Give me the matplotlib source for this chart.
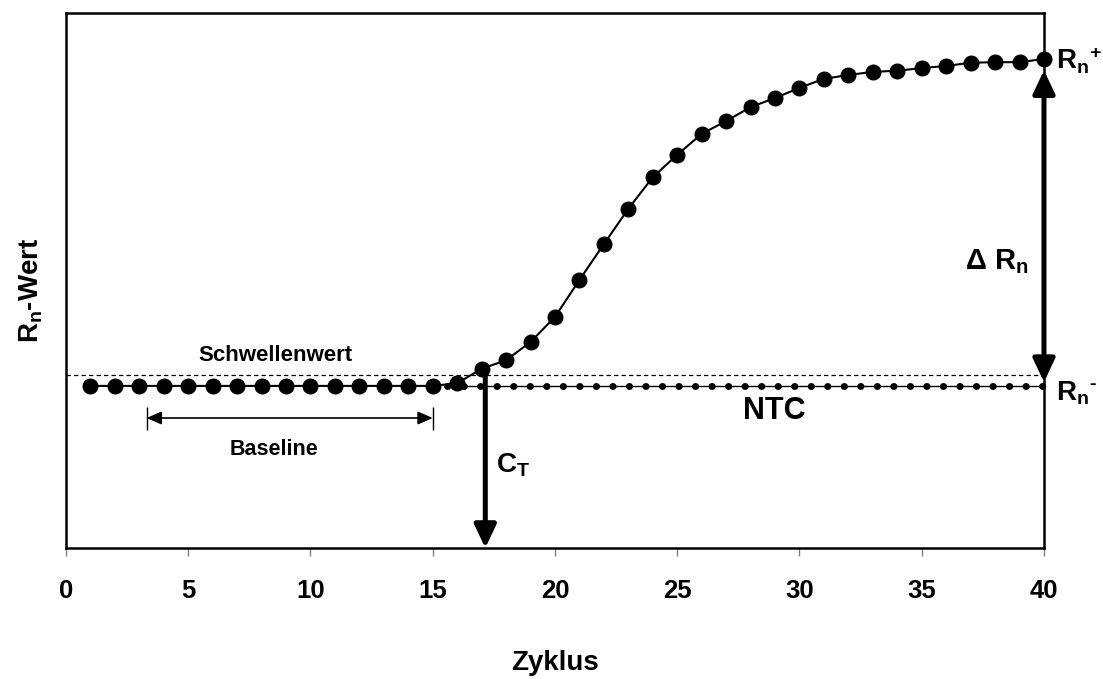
import numpy as np
import matplotlib
matplotlib.use("Agg")
import matplotlib.pyplot as plt

plt.rcParams['font.family'] = ['Liberation Sans', 'DejaVu Sans']
plt.rcParams['font.weight'] = 'bold'
plt.rcParams['mathtext.fontset'] = 'custom'
plt.rcParams['mathtext.rm'] = 'Liberation Sans:bold'
plt.rcParams['mathtext.bf'] = 'Liberation Sans:bold'
plt.rcParams['mathtext.it'] = 'Liberation Sans:bold'

# Daten: Zyklus und Rn-Wert (relative Einheiten, 0-100)
zyklus = np.arange(1, 41)
rn_wert = [30.3, 30.3, 30.3, 30.3, 30.3, 30.3, 30.3, 30.3, 30.3, 30.3,
           30.3, 30.3, 30.3, 30.3, 30.3, 30.8, 33.5, 35.1, 38.5, 43.2,
           50.1, 56.8, 63.4, 69.3, 73.5, 77.4, 79.8, 82.4, 84.1, 86.0,
           87.7, 88.4, 89.0, 89.2, 89.7, 90.1, 90.7, 90.8, 90.8, 91.4]

ntc_x = [15.6, 40]
ntc_y = [30.3, 30.3]
schwelle = 32.3
baseline_von, baseline_bis = 3.3, 15
ct = 17.15
rn_plus, rn_minus = 89.3, 31.0
xticks = [0, 5, 10, 15, 20, 25, 30, 35, 40]

fig = plt.figure(figsize=(11.03, 6.79), dpi=100)
ax = fig.add_axes([0.0598, 0.1929, 0.8867, 0.788])

# Schwellenwert
ax.plot([0, 40], [schwelle, schwelle], color='k', lw=0.9, dashes=(3.5, 2.5))
# NTC
ax.plot(ntc_x, ntc_y, color='k', lw=1.0, clip_on=False)
ax.plot(ntc_x, ntc_y, color='k', lw=5, dashes=(0.05, 2.33), dash_capstyle='round',
        solid_capstyle='round', clip_on=False)
# Probe
ax.plot(zyklus, rn_wert, color='k', lw=1.5, marker='o', markersize=10.5, clip_on=False, zorder=5)

# Baseline-Pfeil
ax.annotate('', xy=(baseline_bis, 24.3), xytext=(baseline_von, 24.3),
            arrowprops=dict(arrowstyle='<|-|>,head_length=0.5,head_width=0.22', lw=1.2, color='k',
                            mutation_scale=18, shrinkA=0, shrinkB=0))
ax.vlines([baseline_von, baseline_bis], 22.1, 26.4, color='k', lw=1.0)

# CT-Pfeil
ax.annotate('', xy=(ct, 0), xytext=(ct, schwelle + 0.5),
            arrowprops=dict(arrowstyle='-|>,head_length=0.7,head_width=0.33', lw=3.6, color='k',
                            mutation_scale=20, shrinkA=0, shrinkB=0), annotation_clip=False)

# Delta Rn Pfeil
ax.annotate('', xy=(40, rn_plus), xytext=(40, rn_minus),
            arrowprops=dict(arrowstyle='<|-|>,head_length=0.7,head_width=0.33', lw=3.6, color='k',
                            mutation_scale=20, shrinkA=0, shrinkB=0), annotation_clip=False)

ax.text(8.55, 35.9, 'Schwellenwert', fontsize=16, ha='center', va='center')
ax.text(8.5, 18.5, 'Baseline', fontsize=15.5, ha='center', va='center')
ax.text(28.96, 25.6, 'NTC', fontsize=22, ha='center', va='center')
ax.text(17.6, 15.5, r'$\mathrm{C_T}$', fontsize=20, ha='left', va='center')
ax.text(39.4, 53.5, r'$\Delta\ \mathrm{R_n}$', fontsize=21, ha='right', va='center')
ax.text(40.5, 91.0, r'$\mathrm{R_n}^{+}$', fontsize=20, ha='left', va='center', clip_on=False)
ax.text(40.5, 29.0, r'$\mathrm{R_n}^{\text{-}}$', fontsize=20, ha='left', va='center', clip_on=False)

ax.set_xlim(0, 40)
ax.set_ylim(0, 100)
ax.set_xticks(xticks)
ax.set_xticklabels([str(t) for t in xticks], fontsize=18.5, fontweight='bold')
ax.set_yticks([])
ax.tick_params(axis='x', direction='out', length=6, width=1, color='gray', pad=16)
for s in ax.spines.values():
    s.set_linewidth(1.8)

ax.set_xlabel('Zyklus', fontsize=20, fontweight='bold', labelpad=34)
ax.set_ylabel(r'$\mathrm{R_n}$-Wert', fontsize=20, fontweight='bold')
ax.yaxis.set_label_coords(-0.021, 0.482)

fig.savefig('out.png', dpi=100)
